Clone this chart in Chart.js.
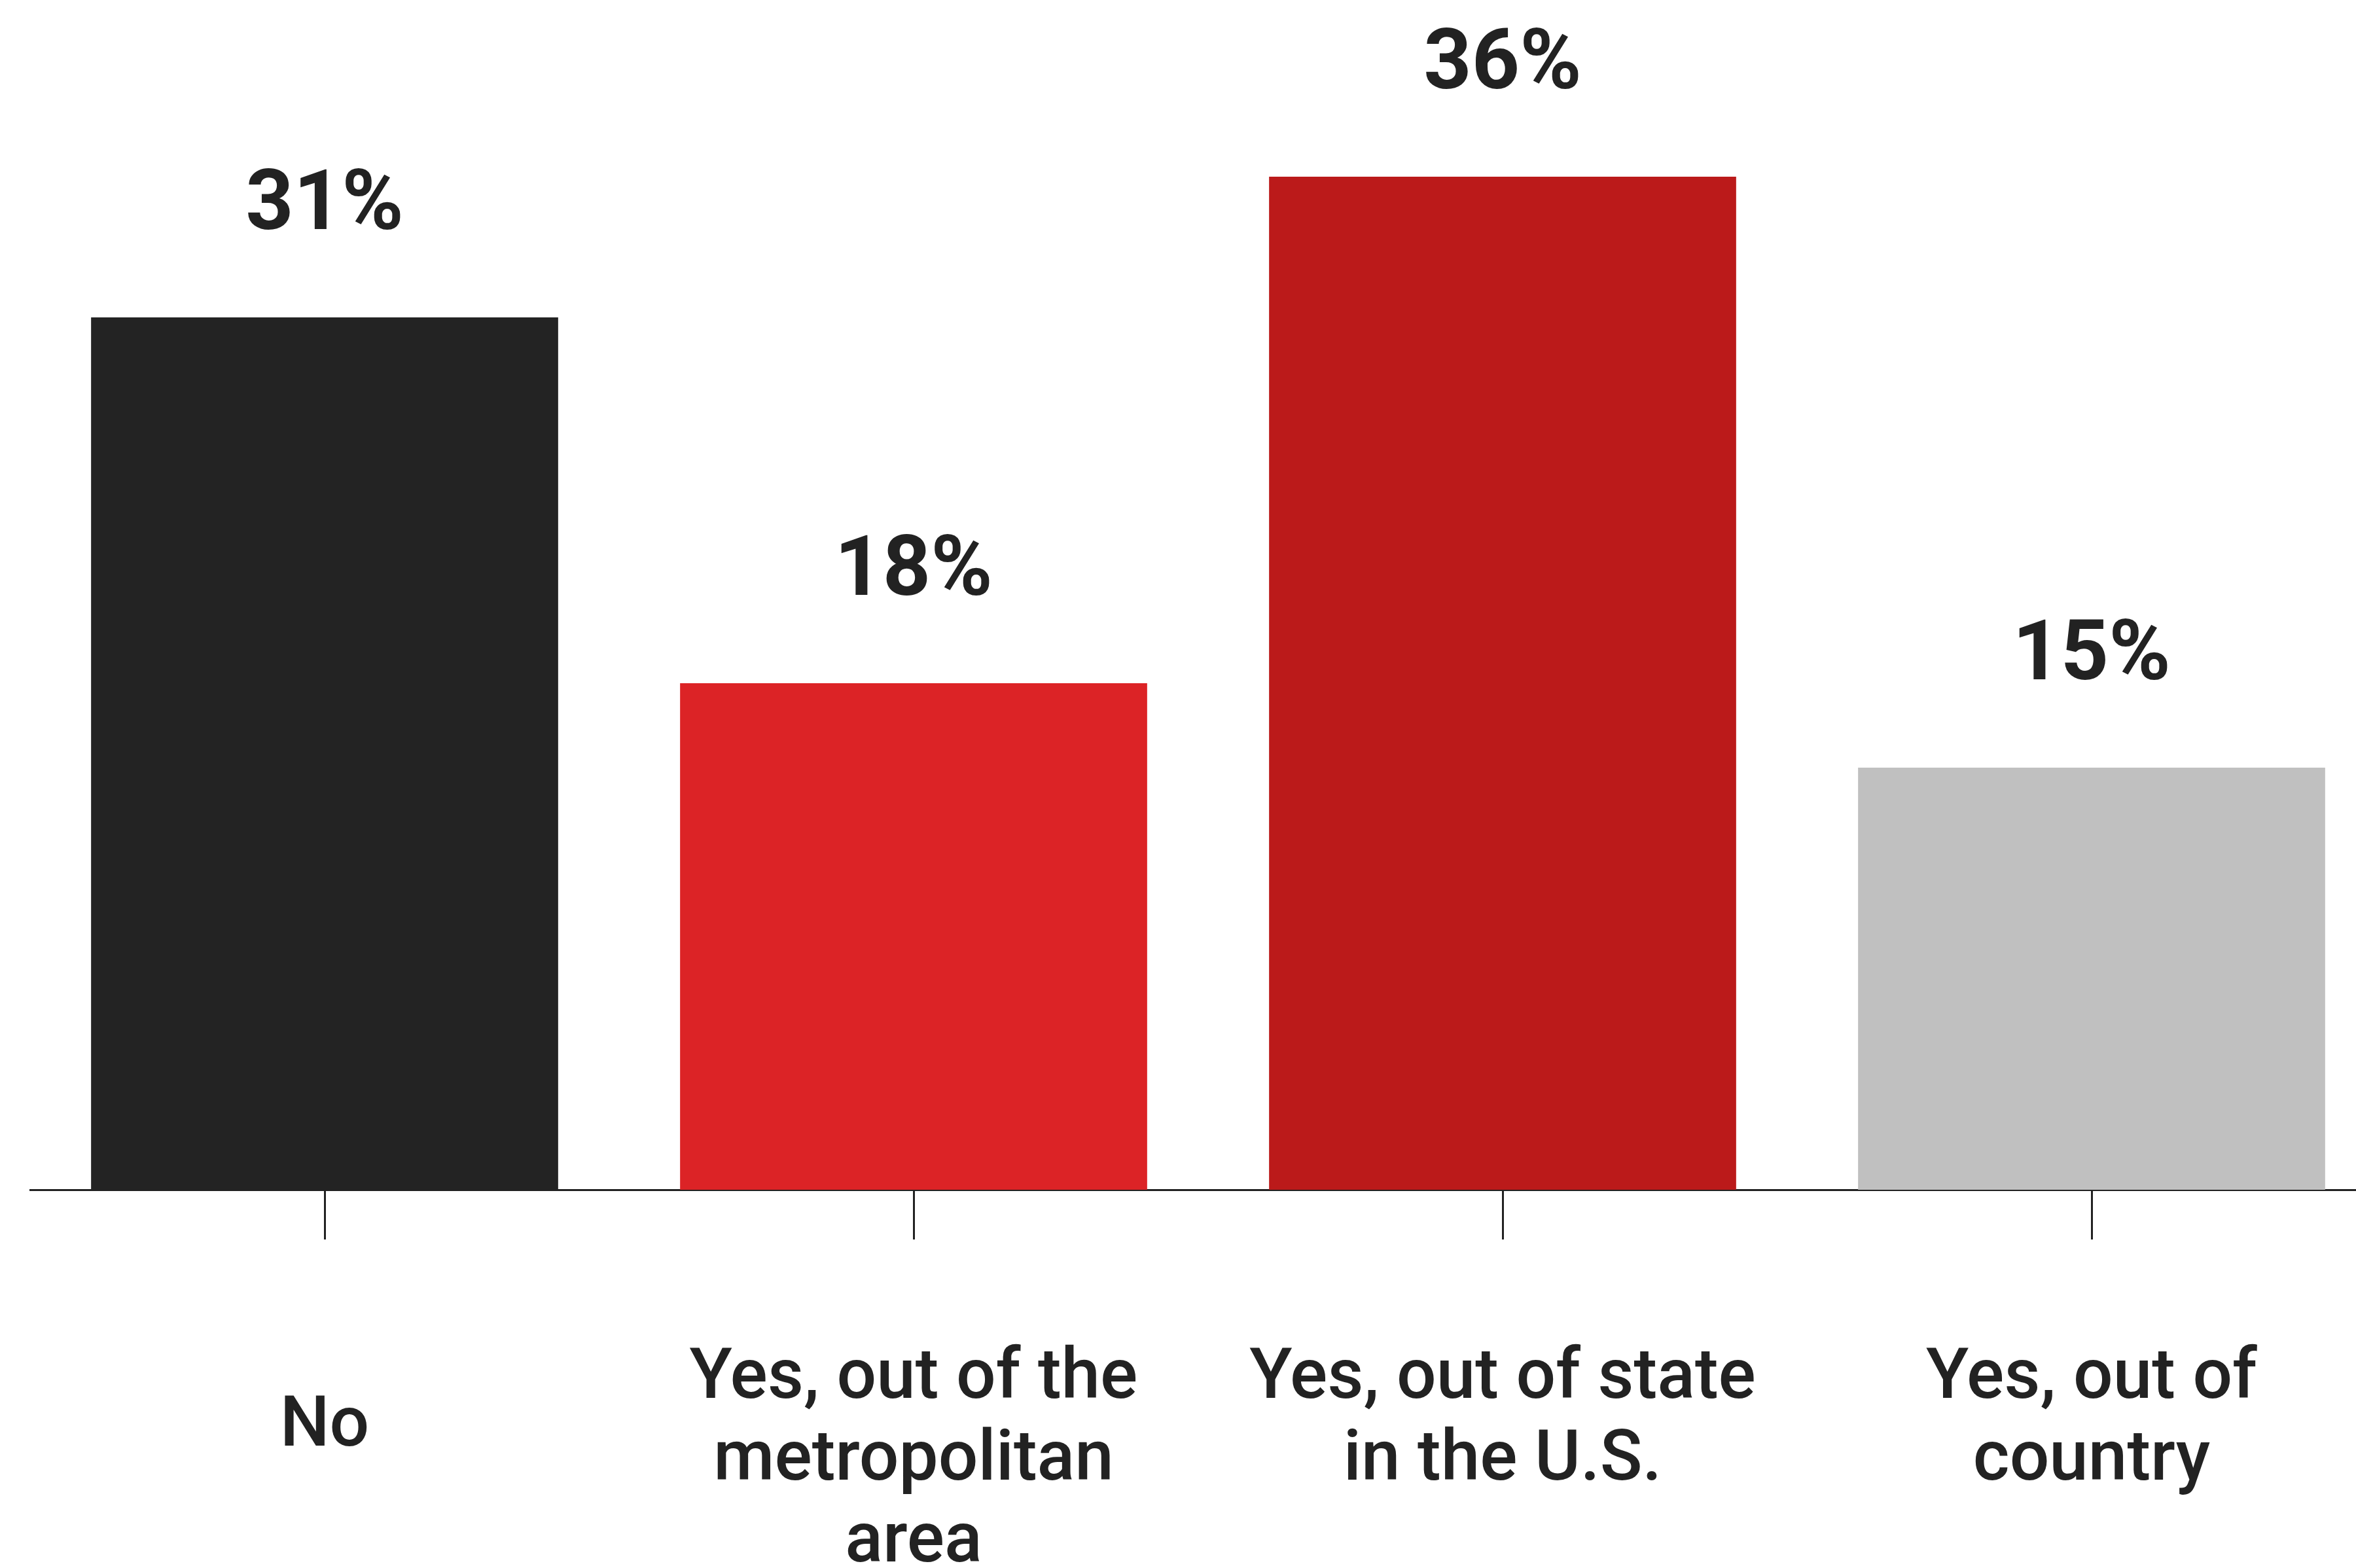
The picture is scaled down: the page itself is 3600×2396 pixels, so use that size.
<!DOCTYPE html>
<html>
<head>
<meta charset="utf-8">
<script src="https://cdn.jsdelivr.net/npm/chart.js@4"></script>
<style>
  html, body { margin: 0; padding: 0; background: #fff; overflow: hidden; }
  #wrap { width: 3600px; height: 2396px; overflow: hidden; }
</style>
</head>
<body>
<div id="wrap">
  <canvas id="relocChart" width="3700" height="2396"></canvas>
</div>
<script>
  // Data
  const categories = [
    ["No"],
    ["Yes, out of the", "metropolitan", "area"],
    ["Yes, out of state", "in the U.S."],
    ["Yes, out of", "country"]
  ];
  const values = [31, 18, 36, 15];
  const valueLabels = ["31%", "18%", "36%", "15%"];
  const barColors = ["#232323", "#dc2326", "#bb1a1a", "#c0c0c0"];

  const textColor = "#222222";

  // draws the bold percentage above each bar
  const valueLabelPlugin = {
    id: "valueLabels",
    afterDatasetsDraw(chart) {
      const ctx = chart.ctx;
      const meta = chart.getDatasetMeta(0);
      ctx.save();
      ctx.font = "700 128px Roboto";
      ctx.fillStyle = textColor;
      ctx.textAlign = "center";
      ctx.textBaseline = "middle";
      meta.data.forEach((bar, i) => {
        ctx.fillText(valueLabels[i], bar.x, bar.y - 167);
      });
      ctx.restore();
    }
  };

  new Chart(document.getElementById("relocChart"), {
    type: "bar",
    data: {
      labels: categories,
      datasets: [{
        data: values,
        backgroundColor: barColors,
        borderWidth: 0,
        barPercentage: 1,
        categoryPercentage: 0.793
      }]
    },
    options: {
      responsive: false,
      animation: false,
      devicePixelRatio: 1,
      layout: { padding: { left: 46, right: 54, top: 98, bottom: 0 } },
      plugins: {
        legend: { display: false },
        tooltip: { enabled: false }
      },
      scales: {
        y: {
          display: false,
          min: 0,
          max: 40
        },
        x: {
          afterFit(axis) { axis.height = 578; },
          grid: {
            offset: false,
            drawOnChartArea: false,
            drawTicks: true,
            tickLength: 76,
            color: "#222222",
            lineWidth: 3
          },
          border: { display: true, color: "#222222", width: 3 },
          ticks: {
            color: textColor,
            padding: 153,
            maxRotation: 0,
            autoSkip: false,
            font: (ctx) => ({
              family: "Roboto",
              weight: "500",
              size: 107,
              // single-line label sits lower, as in the reference
              lineHeight: ctx.index === 0 ? "271px" : "125px"
            })
          }
        }
      }
    },
    plugins: [valueLabelPlugin]
  });
</script>
</body>
</html>
